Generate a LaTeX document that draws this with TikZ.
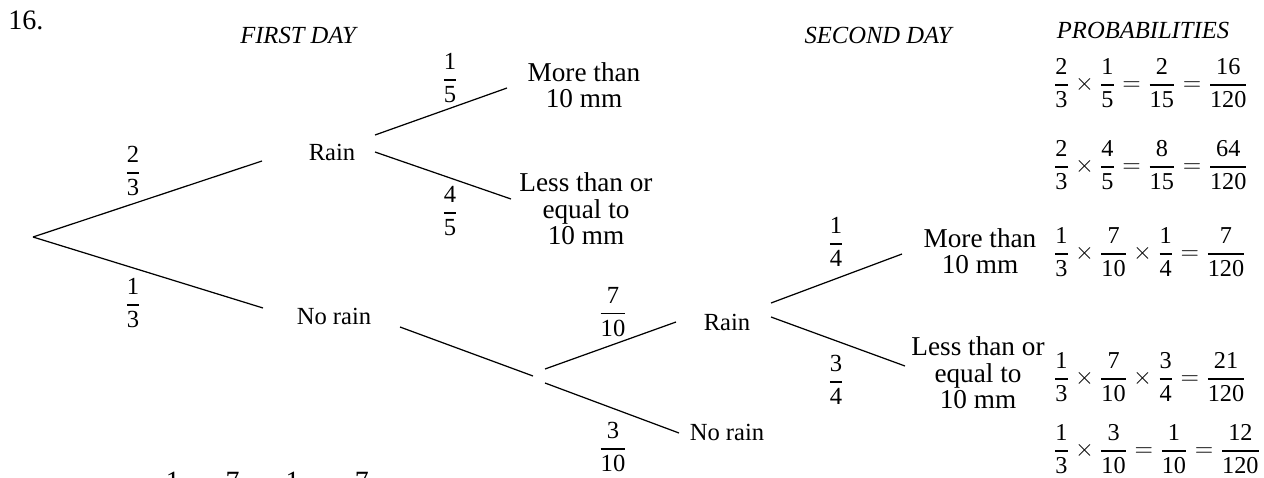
\RequirePackage{fix-cm}
\documentclass[tikz,border=0pt]{standalone}
\usepackage{amsmath}
\usepackage{fontspec}
\setmainfont{Liberation Serif}
\usetikzlibrary{calc,positioning}

\newcommand{\fr}[2]{\genfrac{}{}{0.9pt}{0}{\text{#1}}{\text{#2}}}

\begin{document}
\begin{tikzpicture}[
    x=0.02cm, y=-0.02cm,
    every node/.style={font=\fontsize{14}{15}\selectfont, inner sep=0pt},
    outcome/.style={align=center},
    bigout/.style={align=center, font=\fontsize{15.5}{15}\selectfont},
    head/.style={font=\fontsize{14}{15}\selectfont\itshape},
    frac/.style={font=\fontsize{14}{15}\selectfont},
    result/.style={anchor=west, font=\fontsize{13.8}{15}\selectfont},
    branch/.style={line width=0.7pt}
]
\clip (0,0) rectangle (1264,477);

\node[anchor=base west, font=\fontsize{16}{18}\selectfont] (num) at (8,29) {16.};
\node[head] (hfirst) at (298,35) {FIRST DAY};
\node[head] (hsecond) at (878,35) {SECOND DAY};
\node[head] (hprob) at (1143,30) {PROBABILITIES};

% First day.
\coordinate (root) at (33,237);
\node[outcome] (rainA) at (332,152) {Rain};
\node[outcome] (norainA) at (334,316) {No rain};
\draw[branch] (root) -- ($(rainA)+(-70,9)$);
\draw[branch] (root) -- ($(norainA)+(-71,-8)$);
\node[frac] (pA) at (133,171) {$\fr{2}{3}$};
\node[frac] (pB) at (133,303) {$\fr{1}{3}$};

% Second day after rain.
\node[bigout] (moreA) at (584,85) {More than\\10 mm};
\node[bigout] (lessA) at (586,209) {Less than or\\equal to\\10 mm};
\draw[branch] ($(rainA)+(43,-17)$) -- ($(moreA)+(-77,3)$);
\draw[branch] ($(rainA)+(43,0)$) -- ($(lessA)+(-75,-10)$);
\node[frac] (pC) at (450,78) {$\fr{1}{5}$};
\node[frac] (pD) at (450,211) {$\fr{4}{5}$};

% Second day after no rain.
\node[minimum width=12\pgflinewidth, minimum height=0pt] (fork) at (539,376) {};
\node[outcome] (rainB) at (727,322) {Rain};
\node[outcome] (norainB) at (727,432) {No rain};
\draw[branch] ($(norainA)+(66,11)$) -- ($(fork)+(-6,0)$);
\draw[branch] ($(fork)+(6,-7)$) -- ($(rainB)+(-51,0)$);
\draw[branch] ($(fork)+(6,7)$) -- ($(norainB)+(-48,1)$);
\node[frac] (pE) at (613,312) {$\fr{7}{10}$};
\node[frac] (pF) at (613,447) {$\fr{3}{10}$};

\node[bigout] (moreB) at (980,251) {More than\\10 mm};
\node[bigout] (lessB) at (978,373) {Less than or\\equal to\\10 mm};
\draw[branch] ($(rainB)+(44,-19)$) -- ($(moreB)+(-78,3)$);
\draw[branch] ($(rainB)+(44,-5)$) -- ($(lessB)+(-73,-7)$);
\node[frac] (pG) at (836,242) {$\fr{1}{4}$};
\node[frac] (pH) at (836,380) {$\fr{3}{4}$};

% Probabilities.
\node[result] (r1) at (1053,83) {$\fr{2}{3}\times\fr{1}{5}=\fr{2}{15}=\fr{16}{120}$};
\node[result] (r2) at (1053,165) {$\fr{2}{3}\times\fr{4}{5}=\fr{8}{15}=\fr{64}{120}$};
\node[result] (r3) at (1053,252) {$\fr{1}{3}\times\fr{7}{10}\times\fr{1}{4}=\fr{7}{120}$};
\node[result] (r4) at (1053,377) {$\fr{1}{3}\times\fr{7}{10}\times\fr{3}{4}=\fr{21}{120}$};
\node[result] (r5) at (1053,449) {$\fr{1}{3}\times\fr{3}{10}=\fr{1}{10}=\fr{12}{120}$};

% Cut off at the bottom edge.
\node[result, scale=1.15] (r6) at (163,500) {$\fr{1}{3}\times\fr{7}{10}\times\fr{1}{4}=\fr{7}{120}$};

\end{tikzpicture}
\end{document}
